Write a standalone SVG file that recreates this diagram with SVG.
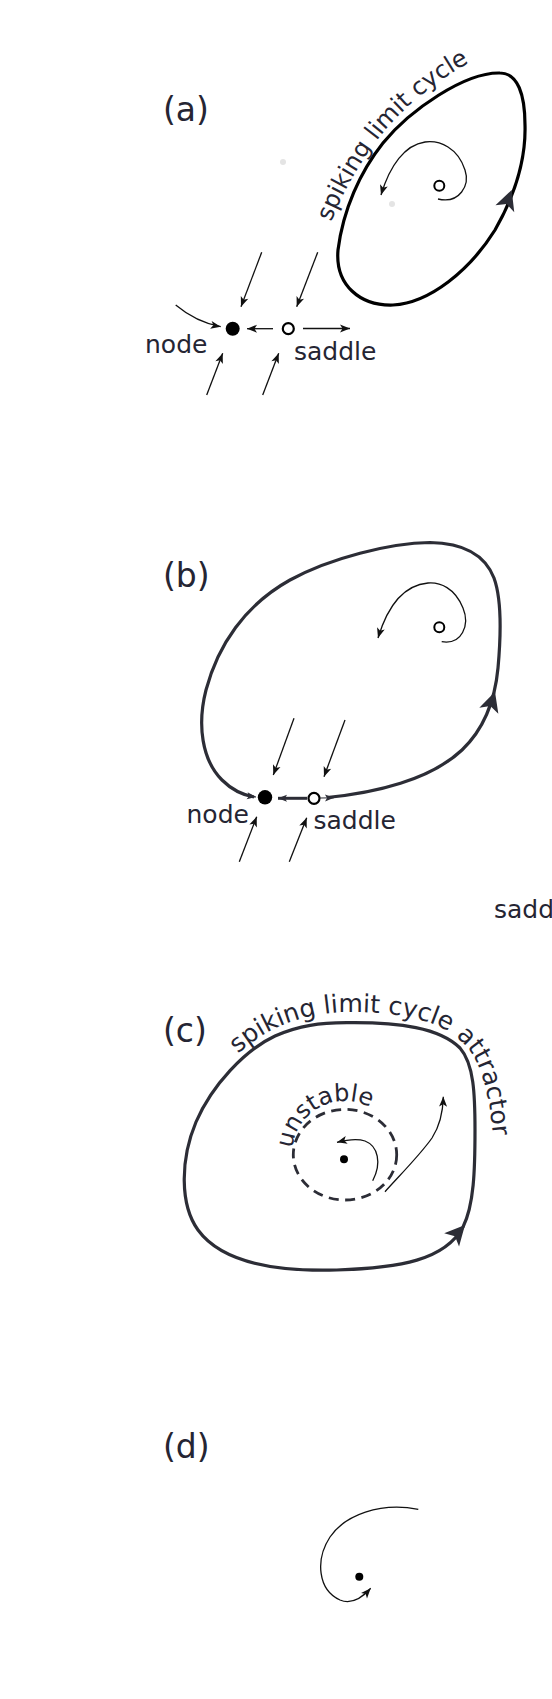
<svg xmlns="http://www.w3.org/2000/svg" width="552" height="1699" viewBox="0 0 552 1699">
<style>
text{font-family:"DejaVu Sans","Liberation Sans",sans-serif;fill:#252533}
.lbl{font-size:33px}
.t{font-size:25px}
.tp{font-size:24px}
.thin{fill:none;stroke:#111;stroke-width:1.3}
.cyc{fill:none;stroke:#2c2d36;stroke-width:3.2}
</style>
<defs>
<marker id="ah" viewBox="-11 -5 12 10" refX="0" refY="0" markerWidth="12" markerHeight="10" markerUnits="userSpaceOnUse" orient="auto">
<path d="M0,0 L-10,-4 L-7.5,0 L-10,4 Z" fill="#111"/>
</marker>
<marker id="ahd" viewBox="-11 -5 12 10" refX="0" refY="0" markerWidth="12" markerHeight="10" markerUnits="userSpaceOnUse" orient="auto">
<path d="M0,0 L-9,-3.5 L-7,0 L-9,3.5 Z" fill="#2c2d36"/>
</marker>
<path id="bighead" d="M0,0 L-20,-10 L-15,0 L-20,10 Z"/>
<path id="tpA" d="M 331,222 Q 352,170 387,128 Q 425,85 480,57"/>
<path id="tpC" d="M 238,1054 C 268,1025 310,1012 350,1012 C 400,1012 440,1020 462,1042 C 483,1062 490,1095 495,1155"/>
<path id="tpU" d="M 292.3,1148.5 A 53 53 0 0 1 381,1115"/>
</defs>

<!-- panel (a) -->
<g id="panel-a">
<text class="lbl" x="163" y="120.5">(a)</text>
<circle cx="283" cy="162" r="3" fill="#e4e4e4"/>
<circle cx="392" cy="204" r="3" fill="#e4e4e4"/>
<g id="a-cycle">
<path d="M 500,73 C 465,72 410,110 383,143 C 360,172 343,210 338,250 C 335,285 360,306 393,305 C 430,303 470,270 495,230 C 515,195 526,160 525,125 C 525,95 518,73 500,73 Z" fill="none" stroke="#000" stroke-width="3.2"/>
<use href="#bighead" transform="translate(511.7,190) rotate(-70)" fill="#2c2d36"/>
<text class="tp"><textPath href="#tpA">spiking limit cycle</textPath></text>
</g>
<g id="a-focus">
<circle cx="439.3" cy="185.7" r="5" fill="#fff" stroke="#000" stroke-width="2"/>
</g>
<g id="a-node">
<circle cx="232.7" cy="328.7" r="7" fill="#000"/>
<text class="t" x="145" y="353.3">node</text>
</g>
<g id="a-saddle">
<circle cx="288.3" cy="328.7" r="5.5" fill="#fff" stroke="#000" stroke-width="2.2"/>
<text class="t" x="294" y="360">saddle</text>
</g>
</g>
<g id="connectors-a">
<path class="thin" d="M 438,199 C 460,204 470,185 465,170 C 458,148 440,140 425,142 C 405,145 390,165 381,195" marker-end="url(#ah)"/>
<path class="thin" d="M 273,328.7 L 247,328.7" stroke="#333" marker-end="url(#ah)"/>
<path class="thin" d="M 303,328.5 L 350,328.5" stroke="#333" marker-end="url(#ah)"/>
<path class="thin" d="M 261.7,252.3 L 241,306.7" marker-end="url(#ah)"/>
<path class="thin" d="M 317.7,252.3 L 296.7,306.7" marker-end="url(#ah)"/>
<path class="thin" d="M 206.7,395 L 222.7,353.3" marker-end="url(#ah)"/>
<path class="thin" d="M 262.7,395 L 278.7,353.3" marker-end="url(#ah)"/>
<path class="thin" d="M 175.7,305 Q 196,322 220.7,326.7" marker-end="url(#ah)"/>
</g>

<!-- panel (b) -->
<g id="panel-b">
<text class="lbl" x="163" y="587">(b)</text>
<g id="b-cycle">
<path class="cyc" d="M 327,797.5 C 375,793 430,780 462,750 C 485,728 495,700 498,668 C 501,635 502,600 494,578 C 485,555 465,543 430,542.5 C 390,543 330,558 290,580 C 245,605 218,645 206,690 C 197,725 202,760 222,780 C 232,790 243,795 254,797"/>
<use href="#bighead" transform="translate(495,691.7) rotate(-72)" fill="#2c2d36"/>
</g>
<g id="b-focus">
<circle cx="439.3" cy="627.3" r="5" fill="#fff" stroke="#000" stroke-width="2"/>
</g>
<g id="b-node">
<circle cx="265" cy="797.3" r="7.2" fill="#000"/>
<text class="t" x="186.5" y="822.7">node</text>
</g>
<g id="b-saddle">
<circle cx="314" cy="798.3" r="5.5" fill="#fff" stroke="#000" stroke-width="2.2"/>
<text class="t" x="313.5" y="829">saddle</text>
</g>
</g>
<g id="connectors-b">
<path class="thin" d="M 441.7,641.7 C 462,645 470,625 463,608 C 455,588 440,582 428,583 C 405,585 388,605 378,638" marker-end="url(#ah)"/>
<path d="M 307,798.3 L 278,798.3" fill="none" stroke="#2c2d36" stroke-width="3" marker-end="url(#ahd)"/>
<path d="M 320,798 L 334,797.8" fill="none" stroke="#2c2d36" stroke-width="1" marker-end="url(#ahd)"/>
<path d="M 246,795.5 L 256,797" fill="none" stroke="#2c2d36" stroke-width="1" marker-end="url(#ahd)"/>
<path class="thin" d="M 294,718.3 L 273.3,775" marker-end="url(#ah)"/>
<path class="thin" d="M 345,720 L 324,776.7" marker-end="url(#ah)"/>
<path class="thin" d="M 239.3,861.7 L 256.7,816.7" marker-end="url(#ah)"/>
<path class="thin" d="M 289.3,861.7 L 306.7,817.7" marker-end="url(#ah)"/>
</g>

<text class="t" x="494" y="918.3">saddle</text>

<!-- panel (c) -->
<g id="panel-c">
<text class="lbl" x="163" y="1041.5">(c)</text>
<g id="c-cycle">
<path class="cyc" d="M 346.7,1022.7 C 400,1022 440,1028 460,1048 C 474,1064 475,1095 475,1130 C 475,1170 474,1205 463,1227 C 445,1260 400,1268 336.7,1270 C 270,1272 220,1260 198,1230 C 180,1205 180,1160 196,1122 C 212,1085 245,1050 275,1036 C 300,1025 320,1023 346.7,1022.7 Z"/>
<use href="#bighead" transform="translate(465,1225) rotate(-48)" fill="#2c2d36"/>
<text style="font-size:25px"><textPath href="#tpC">spiking limit cycle attractor</textPath></text>
</g>
<g id="c-unstable">
<ellipse cx="345" cy="1154.7" rx="51.7" ry="45.3" fill="none" stroke="#2c2d36" stroke-width="2.8" stroke-dasharray="10 6.5"/>
<text style="font-size:24px"><textPath href="#tpU">unstable</textPath></text>
</g>
<g id="c-focus">
<circle cx="344" cy="1159.3" r="4" fill="#000"/>
</g>
</g>
<g id="connectors-c">
<path class="thin" d="M 372.7,1180.7 C 382,1163 378,1146 365,1141 C 356,1138 346,1140 337,1142.3" marker-end="url(#ah)"/>
<path class="thin" d="M 385,1191.7 C 400,1175 420,1155 432,1138 C 441,1124 443,1110 443.3,1096.7" marker-end="url(#ah)"/>
</g>

<!-- panel (d) -->
<g id="panel-d">
<text class="lbl" x="163" y="1457.5">(d)</text>
<g id="d-focus">
<circle cx="359.3" cy="1576.7" r="4" fill="#000"/>
</g>
</g>
<g id="connectors-d">
<path class="thin" d="M 418.3,1509.3 C 380,1502 345,1515 330,1537 C 315,1560 318,1590 340,1600 C 352,1605 362,1598 370.7,1588.3" marker-end="url(#ah)"/>
</g>
</svg>
